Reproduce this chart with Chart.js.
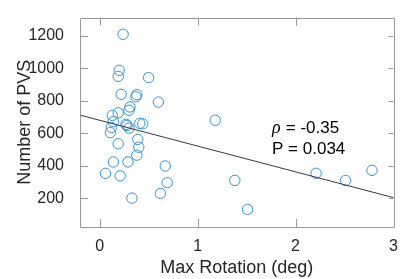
<!DOCTYPE html>
<html>
<head>
<meta charset="utf-8">
<script src="https://cdn.jsdelivr.net/npm/chart.js@4"></script>
<style>
  html, body { margin: 0; padding: 0; background: #fff; }
  #wrap { width: 400px; height: 279px; }
</style>
</head>
<body>
<div id="wrap"><canvas id="canvas"></canvas></div>
<script>
// max rotation (deg) for each subject
let rotation = [0.24, 0.20, 0.19, 0.50, 0.22, 0.38, 0.37, 0.60, 0.31, 0.30,
                0.19, 0.13, 0.14, 0.27, 0.28, 0.30, 0.12, 0.11, 0.41, 0.44,
                0.19, 0.39, 0.40, 0.38, 0.14, 0.29, 0.06, 0.21, 0.67, 0.69,
                0.62, 0.33, 1.18, 1.38, 1.51, 2.21, 2.51, 2.78];
// number of PVS for each subject
let pvs = [1210, 988, 951, 943, 840, 838, 825, 792, 762, 742,
           726, 710, 671, 655, 648, 632, 636, 604, 661, 658,
           535, 562, 514, 465, 423, 423, 353, 337, 398, 295,
           229, 200, 680, 309, 131, 353, 309, 371];

// fitted line end points
let fitX = [-0.2, 3.0];
let fitY = [712, 203];

let xTicks = [0, 1, 2, 3];
let yTicks = [200, 400, 600, 800, 1000, 1200];

// stats text and where it sits (data coords)
let statLines = ['= -0.35', 'P = 0.034'];
let statPos = { x: 1.76, y: [633, 501] };

let points = [];
for (let i = 0; i < rotation.length; i++) {
  points.push({ x: rotation[i], y: pvs[i] });
}
let fitLine = [];
for (let i = 0; i < fitX.length; i++) {
  fitLine.push({ x: fitX[i], y: fitY[i] });
}

const axisGray = '#9a9a9a';
const textCol = '#262626';

// box round the plot with inward ticks, like matlab
let boxPlugin = {
  id: 'box',
  afterDraw(chart) {
    let ctx = chart.ctx;
    let a = chart.chartArea;
    let xs = chart.scales.x, ys = chart.scales.y;
    ctx.save();
    ctx.strokeStyle = axisGray;
    ctx.lineWidth = 1;
    ctx.beginPath();
    ctx.rect(Math.round(a.left) + 0.5, Math.round(a.top) + 0.5,
             Math.round(a.right - a.left), Math.round(a.bottom - a.top));
    xTicks.forEach(function(v) {
      let px = Math.round(xs.getPixelForValue(v)) + 0.5;
      ctx.moveTo(px, a.bottom); ctx.lineTo(px, a.bottom - 8);
      ctx.moveTo(px, a.top); ctx.lineTo(px, a.top + 8);
    });
    yTicks.forEach(function(v) {
      let py = Math.round(ys.getPixelForValue(v)) + 0.5;
      ctx.moveTo(a.left, py); ctx.lineTo(a.left + 8, py);
      ctx.moveTo(a.right, py); ctx.lineTo(a.right - 5, py);
    });
    ctx.stroke();

    // stats text
    ctx.fillStyle = '#000';
    ctx.textBaseline = 'middle';
    ctx.textAlign = 'left';
    let tx = xs.getPixelForValue(statPos.x);
    ctx.font = 'italic 18px "Liberation Serif"';
    ctx.fillText('\u03C1', tx, ys.getPixelForValue(statPos.y[0]));
    ctx.font = '17px "Liberation Sans"';
    ctx.fillText(' ' + statLines[0], tx + 9, ys.getPixelForValue(statPos.y[0]));
    ctx.fillText(statLines[1], tx, ys.getPixelForValue(statPos.y[1]));
    ctx.restore();
  }
};

let options = {
  type: 'scatter',
  data: {
    datasets: [{
      data: fitLine,
      type: 'line',
      borderColor: '#3a3a3a',
      borderWidth: 1,
      pointRadius: 0,
      fill: false
    }, {
      data: points,
      pointStyle: 'circle',
      pointRadius: 5.2,
      pointBorderWidth: 1,
      borderColor: '#3990cc',
      backgroundColor: 'rgba(0,0,0,0)'
    }]
  },
  options: {
    responsive: false,
    animation: false,
    devicePixelRatio: 1,
    layout: { padding: { top: 1, right: 5, left: 0, bottom: 0 } },
    plugins: { legend: { display: false }, tooltip: { enabled: false } },
    scales: {
      x: {
        type: 'linear',
        min: -0.2,
        max: 3.0,
        grid: { display: false },
        border: { display: false },
        afterBuildTicks: function(s) { s.ticks = xTicks.map(function(v) { return { value: v }; }); },
        afterFit: function(s) { s.height = 52; },
        ticks: {
          color: textCol, padding: 2,
          font: { family: 'Liberation Sans', size: 16 },
          callback: function(v) { return String(v); }
        },
        title: {
          display: true,
          text: 'Max Rotation (deg)',
          color: textCol,
          padding: { top: 0, bottom: 0 },
          font: { family: 'Liberation Sans', size: 18 }
        }
      },
      y: {
        type: 'linear',
        min: 22,
        max: 1313,
        grid: { display: false },
        border: { display: false },
        afterBuildTicks: function(s) { s.ticks = yTicks.map(function(v) { return { value: v }; }); },
        afterFit: function(s) { s.width = 80; },
        ticks: {
          color: textCol, padding: 8,
          font: { family: 'Liberation Sans', size: 16 },
          callback: function(v) { return String(v); }
        },
        title: {
          display: true,
          text: 'Number of PVS',
          color: textCol,
          padding: { top: 14, bottom: 0 },
          font: { family: 'Liberation Sans', size: 18 }
        }
      }
    }
  },
  plugins: [boxPlugin]
};

let canvas = document.getElementById('canvas');
canvas.width = 400;
canvas.height = 279;
let chart = new Chart(canvas, options);
</script>
</body>
</html>
